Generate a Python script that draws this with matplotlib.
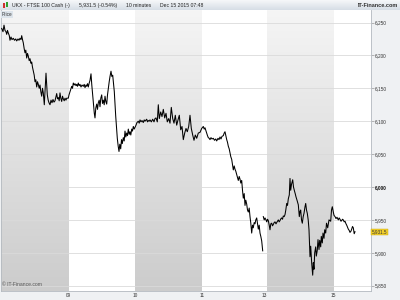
import numpy as np
import matplotlib.pyplot as plt
from matplotlib.colors import LinearSegmentedColormap
from matplotlib.patches import Rectangle

plt.rcParams['font.family'] = ['Liberation Sans', 'DejaVu Sans']

# UKX 10 minute closes, 8 - 15 Dec 2015 (t = position on the time axis)
dec08_t = [1.7, 3, 4, 5, 6, 6.7, 7.5, 8.3, 9.3, 10, 11, 12, 13.3, 14.5, 15.7, 16.7, 18, 19,
           20, 21, 21.7, 22.5, 23.3, 24.2, 25, 25.8, 26.7, 27.5, 28.3, 29.2, 30, 31, 31.7,
           32.5, 33.3, 34.2, 35, 35.8, 36.7, 37.5, 38.3, 39.2, 40, 40.8, 41.7, 42.5, 43.3,
           44.3, 45.2, 46, 46.7, 47.3, 48.2, 49, 50, 51, 52, 53, 54, 55, 55.8, 56.7, 57.5,
           58.3, 59.2, 60, 60.8, 61.7, 62.5, 63.3, 64.2, 65, 66, 66.7]
dec08_p = [6241, 6236, 6246, 6238, 6236, 6232, 6238, 6234, 6230, 6223, 6228, 6224, 6226,
           6223, 6225, 6222, 6225, 6223, 6226, 6224, 6230, 6224, 6219, 6210, 6204, 6208,
           6196, 6203, 6199, 6192, 6195, 6188, 6190, 6182, 6176, 6170, 6160, 6163, 6152,
           6160, 6156, 6150, 6155, 6145, 6138, 6150, 6143, 6125, 6150, 6173, 6155, 6140,
           6132, 6128, 6125, 6132, 6128, 6133, 6129, 6131, 6136, 6142, 6134, 6136, 6131,
           6143, 6135, 6130, 6138, 6134, 6131, 6135, 6132, 6135]

dec09_t = [68.3, 69, 70, 71, 71.7, 72.5, 73.3, 74.2, 75, 76, 76.7, 77.5, 78.3, 79.2, 80, 81,
           82, 83.3, 84.2, 85, 86, 86.7, 87.5, 88.3, 89.2, 90, 91, 91.8, 92.7, 93.5, 94.3,
           95, 95.8, 96.7, 97.5, 98.3, 99.2, 100, 100.8, 101.7, 102.5, 103.3, 104.2, 105,
           105.8, 106.7, 107.5, 108.3, 109.2, 110, 111, 111.8, 112.7, 113.5, 114.3, 115,
           115.7, 116.5, 117.3, 118.2, 119, 119.8, 120.7, 121.5, 122.3, 123.3, 124.2, 125,
           125.8, 126.7, 127.5, 128.3, 129.2, 130, 130.8, 131.7, 132.5, 133.3, 134.2]
dec09_p = [6135, 6140, 6145, 6150, 6153, 6150, 6158, 6155, 6157, 6154, 6156, 6153, 6158,
           6154, 6156, 6152, 6155, 6153, 6156, 6151, 6155, 6153, 6157, 6152, 6158, 6162,
           6172, 6155, 6140, 6125, 6112, 6105, 6120, 6126, 6118, 6128, 6132, 6122, 6135,
           6140, 6127, 6132, 6125, 6138, 6130, 6126, 6140, 6150, 6160, 6168, 6176, 6168,
           6170, 6158, 6145, 6125, 6108, 6090, 6074, 6062, 6054, 6065, 6058, 6072, 6066,
           6075, 6070, 6085, 6076, 6082, 6078, 6088, 6080, 6084, 6079, 6088, 6085, 6092,
           6088]

dec10_t = [136, 137, 138.3, 139.2, 140, 141, 142, 143.3, 144.2, 145, 146.7, 147.5, 148.3,
           149.2, 150, 151.3, 152.7, 154, 155, 156, 157.3, 158.3, 159.3, 160.7, 162, 163.3,
           164.7, 166, 167.3, 168.7, 170, 171.3, 172.7, 174, 175.3, 176.7, 178, 179.3,
           180.7, 182, 183.3, 184.7, 186, 187.3, 188.7, 190, 191.3, 192.7, 194, 195.3,
           196.7, 198.3, 200, 201.7]
dec10_p = [6094, 6098, 6100, 6097, 6102, 6099, 6101, 6098, 6102, 6100, 6103, 6099, 6101,
           6100, 6102, 6099, 6103, 6099, 6104, 6105, 6099, 6125, 6104, 6114, 6107, 6118,
           6105, 6112, 6099, 6104, 6097, 6121, 6104, 6097, 6109, 6094, 6102, 6109, 6087,
           6092, 6072, 6082, 6089, 6084, 6092, 6109, 6089, 6079, 6071, 6079, 6074, 6082,
           6083, 6089]

dec11_t = [203.3, 204.2, 205, 206, 206.7, 207.5, 208.3, 209.2, 210, 211, 212, 213.3, 214.5,
           215.7, 216.7, 218, 219, 220, 221, 222, 223.3, 224.2, 225, 225.8, 226.7, 227.5,
           228.3, 229.2, 230, 230.8, 231.7, 232.5, 233.3, 234.2, 235, 235.8, 236.7, 237.5,
           238.3, 239.2, 240, 240.8, 241.7, 242.5, 243.3, 244.2, 245, 245.8, 246.7, 247.5,
           248.3, 249.2, 250, 250.8, 251.7, 252.5, 253.3, 254.2, 255, 255.8, 256.7, 257.5,
           258.3, 259.2, 260, 260.8, 261.7, 262.3, 262.7]
dec11_p = [6092, 6088, 6090, 6085, 6082, 6078, 6075, 6074, 6072, 6075, 6073, 6074, 6071,
           6073, 6070, 6074, 6072, 6076, 6073, 6077, 6078, 6082, 6084, 6078, 6072, 6068,
           6062, 6058, 6052, 6046, 6042, 6034, 6026, 6032, 6027, 6024, 6019, 6014, 6010,
           6016, 6012, 6006, 6010, 5995, 5983, 5990, 5972, 5980, 5974, 5965, 5962, 5968,
           5955, 5945, 5930, 5942, 5938, 5946, 5944, 5950, 5953, 5945, 5936, 5942, 5930,
           5925, 5918, 5908, 5903]

dec14_t = [263.3, 264.2, 265, 266, 266.7, 267.5, 268.3, 269.2, 270, 270.8, 271.7, 272.5,
           273.3, 274.2, 275, 276, 276.7, 277.5, 278.3, 279.2, 280, 281, 281.7, 282.5,
           283.3, 284.2, 285, 285.8, 286.7, 287.5, 288.3, 289.3, 290, 290.7, 291.5, 292.7,
           293.5, 294.3, 295.2, 296, 297, 298.3, 299.3, 300, 300.7, 301.5, 302.3, 303.2,
           304, 305, 305.7, 306.5, 307.3, 308.2, 309, 310, 310.7, 311.7, 312.7, 313.3, 314,
           314.7, 315.7, 316.3, 317.3, 318, 319, 319.7, 320.7, 321.3, 322.3, 323, 324,
           324.7, 325.7, 326.5, 327.7, 329, 330.7, 331.5]
dec14_p = [5955, 5950, 5953, 5950, 5947, 5951, 5949, 5942, 5935, 5944, 5945, 5941, 5943,
           5946, 5947, 5944, 5946, 5948, 5950, 5947, 5949, 5952, 5953, 5951, 5956, 5955,
           5958, 5965, 5975, 5972, 5982, 5988, 6013, 5995, 6004, 6011, 6000, 5995, 5990,
           5985, 5980, 5973, 5955, 5963, 5965, 5950, 5945, 5955, 5960, 5970, 5975, 5965,
           5960, 5950, 5935, 5894, 5910, 5884, 5866, 5885, 5875, 5900, 5909, 5895, 5904,
           5920, 5905, 5919, 5909, 5925, 5915, 5930, 5922, 5935, 5930, 5945, 5938, 5950,
           5948, 5965]

dec15_t = [332.3, 333.3, 334, 335, 336, 337, 338.3, 339.2, 340, 341, 341.7, 342.5, 343.3,
           344.2, 345, 346, 346.7, 347.5, 348.3, 349.2, 350, 351, 351.7, 352.5, 353.3,
           354.2, 355]
dec15_p = [5970, 5962, 5957, 5955, 5952, 5954, 5950, 5953, 5951, 5948, 5949, 5951, 5950,
           5947, 5948, 5944, 5942, 5939, 5936, 5934, 5931, 5933, 5936, 5940, 5938, 5929,
           5932]

day_edges = [1, 68.3, 135.3, 202.3, 266.7, 333.3, 371]
shaded = [True, False, True, False, True, False]
tick_pos = [68.3, 135.3, 202.3, 264, 333.3]
tick_lab = ['09', '10', '11', '13', '15']
y_ticks = [5850, 5900, 5950, 6000, 6050, 6100, 6150, 6200, 6250]
last = 5931.5

fig = plt.figure(figsize=(4, 3), dpi=100, facecolor='#eff1f3')
ax = fig.add_axes([1/400, 9.3/300, 370/400, 280.7/300])
ax.set_facecolor('white')
ymin, ymax = 5842.4, 6269

# day bands, darker towards the bottom
grad = np.linspace(0, 1, 256).reshape(-1, 1)
band_cmap = LinearSegmentedColormap.from_list('band', ['#cccccc', '#f5f5f5'])
for i in range(len(shaded)):
    if shaded[i]:
        ax.imshow(grad, extent=(day_edges[i], day_edges[i+1], ymin, ymax), origin='lower',
                  aspect='auto', cmap=band_cmap, zorder=0)

ax.set_xlim(1, 371)
ax.set_ylim(ymin, ymax)
for y in y_ticks:
    ax.axhline(y, color='#dadada', lw=0.6, zorder=1)

# Mon-Fri continuous, break over the weekend
week1_t = dec08_t + dec09_t + dec10_t + dec11_t
week1_p = dec08_p + dec09_p + dec10_p + dec11_p
week2_t = dec14_t + dec15_t
week2_p = dec14_p + dec15_p
ax.plot(week1_t, week1_p, color='black', lw=0.75, zorder=3)
ax.plot(week2_t, week2_p, color='black', lw=0.75, zorder=3)

ax.yaxis.tick_right()
ax.set_yticks(y_ticks, labels=['{:,}'.format(v) for v in y_ticks])
ax.tick_params(axis='y', labelsize=3.4, length=2, width=0.5, color='#999999', pad=0.6,
               labelcolor='#333333')
for lab in ax.get_yticklabels():
    if lab.get_text() == '6,000':
        lab.set_fontweight('bold')
        lab.set_color('#111111')
ax.set_xticks(tick_pos, labels=tick_lab)
ax.tick_params(axis='x', labelsize=3.4, length=0, pad=1.6, labelcolor='#333333')

ax.spines['top'].set_visible(False)
for s in ['left', 'right', 'bottom']:
    ax.spines[s].set_color('#b4bac0')
    ax.spines[s].set_linewidth(0.6)

ax.text(1.002, last, '{:,.1f}'.format(last), transform=ax.get_yaxis_transform(),
        fontsize=3.3, va='center', ha='left', color='#333333', clip_on=False,
        bbox=dict(fc='#f2cf2a', ec='#c9a800', lw=0.3, pad=0.6))
ax.text(0.003, 0.012, '\u00a9 IT-Finance.com', transform=ax.transAxes, fontsize=3.6,
        color='#555555', va='bottom', ha='left')

# header bar
hd = fig.add_axes([0, 1 - 10/300, 1, 10/300])
hd.imshow(grad, origin='lower', aspect='auto', extent=(0, 1, 0, 1),
          cmap=LinearSegmentedColormap.from_list('hd', ['#d6dde5', '#f6f8fa']))
hd.set_xlim(0, 1)
hd.set_ylim(0, 1)
hd.axis('off')
hd.axhline(0.02, color='#b4bac0', lw=0.6)
hd.add_patch(Rectangle((3/400, 0.25), 2/400, 0.45, fc='#d03030', ec='none'))
hd.add_patch(Rectangle((6/400, 0.35), 2/400, 0.45, fc='#30a030', ec='none'))

ty = 1 - 5.5/300
fig.text(11.7/400, ty, 'UKX - FTSE 100 Cash (-)', fontsize=3.7, va='center', color='#222222')
fig.text(79/400, ty, '5,931.5 (-0.54%)', fontsize=3.7, va='center', color='#222222')
fig.text(125.7/400, ty, '10 minutes', fontsize=3.7, va='center', color='#222222')
fig.text(160/400, ty, 'Dec 15 2015 07:48', fontsize=3.7, va='center', color='#222222')
fig.text(398/400, ty, 'IT-Finance.com', fontsize=4, fontweight='bold', va='center',
         ha='right', color='#333333')
fig.text(2/400, 1 - 14.5/300, 'Price', fontsize=3.3, va='center', color='#333333',
         bbox=dict(fc='#dde4eb', ec='none', pad=0.6))

fig.savefig('out.png', dpi=100)
